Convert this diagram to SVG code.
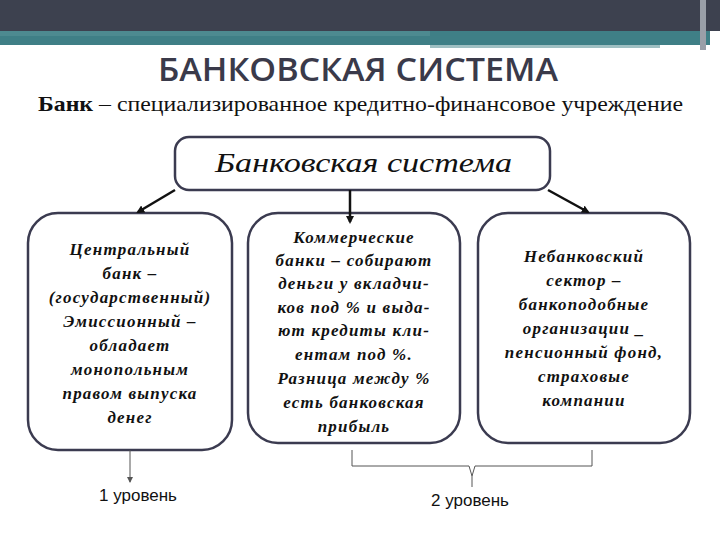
<svg xmlns="http://www.w3.org/2000/svg" width="720" height="540" viewBox="0 0 720 540">
<style>
.box{fill:#fff;stroke:#3b3b50;stroke-width:2.5}
.it{font-family:"Liberation Serif",serif;font-style:italic;font-weight:bold;font-size:17px;letter-spacing:1.2px;fill:#111;text-anchor:middle}
.conn{stroke:#111;stroke-width:2.5;fill:none}
</style>
<defs><marker id="a" markerWidth="8" markerHeight="8" refX="6" refY="4" orient="auto" markerUnits="userSpaceOnUse"><path d="M0,0L8,4L0,8z" fill="#111"/></marker>
<marker id="s" markerWidth="6" markerHeight="6" refX="5" refY="3" orient="auto" markerUnits="userSpaceOnUse"><path d="M0,0L6,3L0,6z" fill="#555"/></marker></defs>
<rect width="720" height="540" fill="#fff"/>
<rect x="0" y="0" width="720" height="31" fill="#3d414f"/>
<rect x="0" y="31" width="710" height="14" fill="#3f7f86"/>
<rect x="0" y="31" width="430" height="5" fill="#4d8a90"/>
<rect x="430" y="45" width="230" height="3" fill="#9fbfc2"/>
<rect x="700" y="0" width="6" height="50" fill="#9a9fa8"/>
<text x="158" y="81" textLength="400" lengthAdjust="spacingAndGlyphs" font-family="'Open Sans',sans-serif" font-size="32" fill="#3a3a4a" font-weight="600">БАНКОВСКАЯ СИСТЕМА</text>
<text x="38" y="111" textLength="645" lengthAdjust="spacingAndGlyphs" font-family="'Liberation Serif',serif" font-size="22" fill="#111"><tspan font-weight="bold">Банк</tspan> – специализированное кредитно-финансовое учреждение</text>
<g id="top"><rect class="box" x="175" y="137" width="375" height="53" rx="14"/>
<text x="215" y="172" textLength="297" lengthAdjust="spacingAndGlyphs" font-family="'Liberation Serif',serif" font-style="italic" font-size="27" fill="#111">Банковская система</text></g>
<g id="cb"><rect class="box" x="28" y="213" width="204" height="237" rx="30"/>
<text class="it"><tspan x="130" y="255">Центральный</tspan><tspan x="130" y="279">банк –</tspan><tspan x="130" y="303">(государственный)</tspan><tspan x="130" y="327">Эмиссионный –</tspan><tspan x="130" y="351">обладает</tspan><tspan x="130" y="375">монопольным</tspan><tspan x="130" y="399">правом выпуска</tspan><tspan x="130" y="423">денег</tspan></text></g>
<g id="kb"><rect class="box" x="248" y="213" width="212" height="230" rx="30"/>
<text class="it"><tspan x="354" y="243">Коммерческие</tspan><tspan x="354" y="266">банки – собирают</tspan><tspan x="354" y="289">деньги у вкладчи-</tspan><tspan x="354" y="313">ков  под % и выда-</tspan><tspan x="354" y="336">ют кредиты кли-</tspan><tspan x="354" y="360">ентам под %.</tspan><tspan x="354" y="384">Разница между %</tspan><tspan x="354" y="408">есть банковская</tspan><tspan x="354" y="432">прибыль</tspan></text></g>
<g id="nb"><rect class="box" x="478" y="213" width="212" height="230" rx="30"/>
<text class="it"><tspan x="584" y="262">Небанковский</tspan><tspan x="584" y="286">сектор –</tspan><tspan x="584" y="310">банкоподобные</tspan><tspan x="584" y="334">организации _</tspan><tspan x="584" y="358">пенсионный фонд,</tspan><tspan x="584" y="382">страховые</tspan><tspan x="584" y="406">компании</tspan></text></g>
<g id="connectors">
<line class="conn" x1="175" y1="190" x2="138" y2="212" marker-end="url(#a)"/>
<line class="conn" x1="350" y1="190" x2="350" y2="222" marker-end="url(#a)"/>
<line class="conn" x1="548" y1="190" x2="588" y2="212" marker-end="url(#a)"/>
<line x1="130" y1="450" x2="130" y2="482" stroke="#555" stroke-width="1" marker-end="url(#s)"/>
<path d="M352,450V466H469L472,476L475,466H592V450" stroke="#555" stroke-width="1" fill="none"/>
<line x1="472" y1="476" x2="472" y2="487" stroke="#555" stroke-width="1"/>
</g>
<text x="138" y="501" font-family="'Liberation Sans',sans-serif" font-size="17" text-anchor="middle" fill="#111">1 уровень</text>
<text x="470" y="506" font-family="'Liberation Sans',sans-serif" font-size="17" text-anchor="middle" fill="#111">2 уровень</text>
</svg>
